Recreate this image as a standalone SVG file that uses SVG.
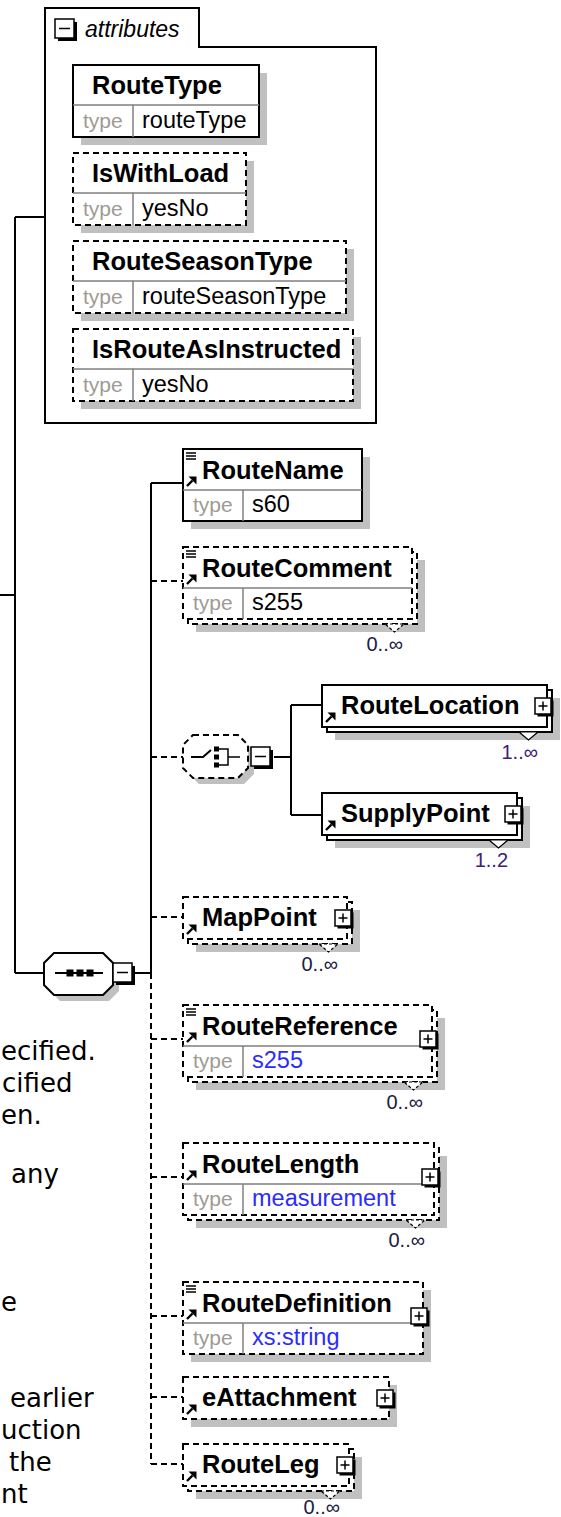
<svg xmlns="http://www.w3.org/2000/svg" xmlns:xlink="http://www.w3.org/1999/xlink" width="561" height="1517" viewBox="0 0 561 1517">
<style>
.ln{stroke:#000;stroke-width:2;fill:none}
.dl{stroke:#000;stroke-width:2;fill:none;stroke-dasharray:6 4}
.bx{fill:#fff;stroke:#000;stroke-width:2}
.bxd{fill:#fff;stroke:#000;stroke-width:2;stroke-dasharray:6 4}
.sh{fill:#c0c0c0}
.dv{stroke:#808080;stroke-width:1.5;fill:none}
.nm{font-family:"Liberation Sans",Arial,sans-serif;font-weight:bold;font-size:25.5px;fill:#000}
.tl{font-family:"Liberation Sans",Arial,sans-serif;font-size:21px;fill:#a09a94}
.tv{font-family:"Liberation Sans",Arial,sans-serif;font-size:23.5px;fill:#000}
.tb{fill:#2b2bff}
.oc{font-family:"Liberation Sans",Arial,sans-serif;font-size:20px;fill:#202040;text-anchor:end}
.oc1{fill:#402070}
.it{font-family:"Liberation Sans",Arial,sans-serif;font-style:italic;font-size:23px;fill:#000}
.bg{font-family:"DejaVu Sans",Verdana,sans-serif;font-size:26px;fill:#000}
.nt{fill:#fff;stroke:#000;stroke-width:1.2}
.ntd{fill:#fff;stroke:#000;stroke-width:1.2;stroke-dasharray:3 2}
</style>
<defs>
<g id="plus"><rect x="2.5" y="2.5" width="16" height="16" fill="#000"/><rect x="0" y="0" width="16" height="16" fill="#fff" stroke="#000" stroke-width="1.5"/><path d="M3.5 8H12.5M8 3.5V12.5" stroke="#000" stroke-width="1.5"/></g>
<g id="minus"><rect x="3" y="3" width="19" height="19" fill="#000"/><rect x="0" y="0" width="19" height="19" fill="#fff" stroke="#000" stroke-width="1.5"/><path d="M4 9.5H15" stroke="#000" stroke-width="1.5"/></g>
<g id="ar"><path d="M1 10L6.5 4.5" stroke="#000" stroke-width="2.4"/><path d="M2.5 0.5H10.5V8.5Z" fill="#000"/></g>
<g id="dc"><path d="M0 1H10M0 4H10M0 7H10" stroke="#000" stroke-width="1.4"/></g>
</defs>

<g id="bgtext">
<text class="bg" x="1" y="1060">ecified.</text>
<text class="bg" x="2" y="1092">cified</text>
<text class="bg" x="1" y="1124">en.</text>
<text class="bg" x="11" y="1183">any</text>
<text class="bg" x="1" y="1311">e</text>
<text class="bg" x="10" y="1407">earlier</text>
<text class="bg" x="1" y="1439">uction</text>
<text class="bg" x="9" y="1471">the</text>
<text class="bg" x="1" y="1503">nt</text>
</g>

<g id="connectors">
<path class="ln" d="M0 595H15M15 217V973M15 217H45M15 973H44"/>
<path class="ln" d="M135 973H151M151 483V973M151 483H183"/>
<path class="dl" d="M151 973V1464"/>
<path class="dl" d="M151 581H183M151 757H183M151 917H183M151 1039H183M151 1177H183M151 1316H183M151 1397H183M151 1464H183"/>
<path class="ln" d="M274 757H291M291 705V815M291 705H322M291 815H322"/>
</g>

<g id="attributes">
<path d="M45 8H199V47H376V423H45Z" fill="#fff" stroke="#000" stroke-width="2"/>
<use xlink:href="#minus" x="55" y="19"/>
<text class="it" x="85" y="37">attributes</text>
</g>

<g id="attr-RouteType">
<rect class="sh" x="81" y="73" width="186" height="72"/>
<rect class="bx" x="73" y="65" width="186" height="72"/>
<path class="dv" d="M73 105H259M133 105V137"/>
<text class="nm" x="92" y="94">RouteType</text>
<text class="tl" x="83" y="128">type</text>
<text class="tv" x="142" y="128">routeType</text>
</g>
<g id="attr-IsWithLoad">
<rect class="sh" x="81" y="161" width="173" height="72"/>
<rect class="bxd" x="73" y="153" width="173" height="72"/>
<path class="dv" d="M73 193H246M133 193V225"/>
<text class="nm" x="92" y="182">IsWithLoad</text>
<text class="tl" x="83" y="216">type</text>
<text class="tv" x="142" y="216">yesNo</text>
</g>
<g id="attr-RouteSeasonType">
<rect class="sh" x="81" y="249" width="273" height="72"/>
<rect class="bxd" x="73" y="241" width="273" height="72"/>
<path class="dv" d="M73 281H346M133 281V313"/>
<text class="nm" x="92" y="270">RouteSeasonType</text>
<text class="tl" x="83" y="304">type</text>
<text class="tv" x="142" y="304">routeSeasonType</text>
</g>
<g id="attr-IsRouteAsInstructed">
<rect class="sh" x="81" y="337" width="280" height="72"/>
<rect class="bxd" x="73" y="329" width="280" height="72"/>
<path class="dv" d="M73 369H353M133 369V401"/>
<text class="nm" x="92" y="358">IsRouteAsInstructed</text>
<text class="tl" x="83" y="392">type</text>
<text class="tv" x="142" y="392">yesNo</text>
</g>

<g id="sequence">
<path class="sh" d="M60 959H109L119 969V991L109 1001H60L50 991V969Z"/>
<path d="M54 953H103L113 963V985L103 995H54L44 985V963Z" fill="#fff" stroke="#000" stroke-width="2"/>
<path d="M55 973H103" stroke="#000" stroke-width="2"/>
<rect x="66.5" y="969.5" width="7" height="7"/><rect x="76.5" y="969.5" width="7" height="7"/><rect x="86.5" y="969.5" width="7" height="7"/>
<use xlink:href="#minus" x="113" y="963"/>
</g>

<g id="el-RouteName">
<rect class="sh" x="191" y="457" width="179" height="72"/>
<rect class="bx" x="183" y="449" width="179" height="72"/>
<path class="dv" d="M183 490H362M243 490V521"/>
<use xlink:href="#dc" x="186" y="452"/>
<use xlink:href="#ar" x="186" y="476"/>
<text class="nm" x="202" y="479">RouteName</text>
<text class="tl" x="193" y="512">type</text>
<text class="tv" x="252" y="512">s60</text>
</g>

<g id="el-RouteComment">
<rect class="sh" x="196" y="560" width="229" height="72"/>
<rect class="bxd" x="188" y="552" width="229" height="72"/>
<rect class="bxd" x="183" y="547" width="229" height="72"/>
<path class="dv" d="M183 588H412M243 588V619"/>
<use xlink:href="#dc" x="186" y="550"/>
<use xlink:href="#ar" x="186" y="574"/>
<text class="nm" x="202" y="577">RouteComment</text>
<text class="tl" x="193" y="610">type</text>
<text class="tv" x="252" y="610">s255</text>
<path class="ntd" d="M385 624H404L394.5 632Z"/>
<text class="oc" x="403" y="651">0..∞</text>
</g>

<g id="choice">
<path class="sh" d="M199 741H244L254 751V774L244 784H199L189 774V751Z"/>
<path d="M193 735H238L248 745V768L238 778H193L183 768V745Z" fill="#fff" stroke="#000" stroke-width="2" stroke-dasharray="6 4"/>
<path d="M191 757H203L211 750" stroke="#000" stroke-width="2" fill="none"/>
<rect x="214" y="746.5" width="5" height="5"/><rect x="214" y="754.5" width="5" height="5"/><rect x="214" y="762.5" width="5" height="5"/>
<path d="M219 749H228V765H219M228 757H240" stroke="#000" stroke-width="1.5" fill="none"/>
<use xlink:href="#minus" x="251" y="747"/>
</g>

<g id="el-RouteLocation">
<rect class="sh" x="335" y="698" width="225" height="42"/>
<rect class="bx" x="327" y="690" width="225" height="42"/>
<rect class="bx" x="322" y="685" width="225" height="42"/>
<use xlink:href="#ar" x="325" y="712"/>
<text class="nm" x="341" y="714">RouteLocation</text>
<use xlink:href="#plus" x="535" y="698"/>
<path class="nt" d="M519 732H538L528.5 740Z"/>
<text class="oc oc1" x="538" y="759">1..∞</text>
</g>

<g id="el-SupplyPoint">
<rect class="sh" x="335" y="806" width="195" height="42"/>
<rect class="bx" x="327" y="798" width="195" height="42"/>
<rect class="bx" x="322" y="793" width="195" height="42"/>
<use xlink:href="#ar" x="325" y="820"/>
<text class="nm" x="341" y="822">SupplyPoint</text>
<use xlink:href="#plus" x="505" y="806"/>
<path class="nt" d="M489 840H508L498.5 848Z"/>
<text class="oc oc1" x="508" y="867">1..2</text>
</g>

<g id="el-MapPoint">
<rect class="sh" x="196" y="910" width="164" height="42"/>
<rect class="bxd" x="188" y="902" width="164" height="42"/>
<rect class="bxd" x="183" y="897" width="164" height="42"/>
<use xlink:href="#ar" x="186" y="924"/>
<text class="nm" x="202" y="926">MapPoint</text>
<use xlink:href="#plus" x="335" y="910"/>
<path class="ntd" d="M319 944H338L328.5 952Z"/>
<text class="oc" x="338" y="971">0..∞</text>
</g>

<g id="el-RouteReference">
<rect class="sh" x="196" y="1018" width="249" height="72"/>
<rect class="bxd" x="188" y="1010" width="249" height="72"/>
<rect class="bxd" x="183" y="1005" width="249" height="72"/>
<path class="dv" d="M183 1046H432M243 1046V1077"/>
<use xlink:href="#dc" x="186" y="1008"/>
<use xlink:href="#ar" x="186" y="1032"/>
<text class="nm" x="202" y="1035">RouteReference</text>
<text class="tl" x="193" y="1068">type</text>
<text class="tv tb" x="252" y="1068">s255</text>
<use xlink:href="#plus" x="420" y="1031"/>
<path class="ntd" d="M404 1082H423L413.5 1090Z"/>
<text class="oc" x="423" y="1109">0..∞</text>
</g>

<g id="el-RouteLength">
<rect class="sh" x="196" y="1156" width="251" height="72"/>
<rect class="bxd" x="188" y="1148" width="251" height="72"/>
<rect class="bxd" x="183" y="1143" width="251" height="72"/>
<path class="dv" d="M183 1184H434M243 1184V1215"/>
<use xlink:href="#ar" x="186" y="1170"/>
<text class="nm" x="202" y="1173">RouteLength</text>
<text class="tl" x="193" y="1206">type</text>
<text class="tv tb" x="252" y="1206">measurement</text>
<use xlink:href="#plus" x="422" y="1169"/>
<path class="ntd" d="M406 1220H425L415.5 1228Z"/>
<text class="oc" x="425" y="1247">0..∞</text>
</g>

<g id="el-RouteDefinition">
<rect class="sh" x="191" y="1290" width="240" height="72"/>
<rect class="bxd" x="183" y="1282" width="240" height="72"/>
<path class="dv" d="M183 1323H423M243 1323V1354"/>
<use xlink:href="#dc" x="186" y="1285"/>
<use xlink:href="#ar" x="186" y="1309"/>
<text class="nm" x="202" y="1312">RouteDefinition</text>
<text class="tl" x="193" y="1345">type</text>
<text class="tv tb" x="252" y="1345">xs:string</text>
<use xlink:href="#plus" x="411" y="1308"/>
</g>

<g id="el-eAttachment">
<rect class="sh" x="191" y="1385" width="206" height="42"/>
<rect class="bxd" x="183" y="1377" width="206" height="42"/>
<use xlink:href="#ar" x="186" y="1404"/>
<text class="nm" x="202" y="1406">eAttachment</text>
<use xlink:href="#plus" x="377" y="1390"/>
</g>

<g id="el-RouteLeg">
<rect class="sh" x="196" y="1457" width="166" height="42"/>
<rect class="bxd" x="188" y="1449" width="166" height="42"/>
<rect class="bxd" x="183" y="1444" width="166" height="42"/>
<use xlink:href="#ar" x="186" y="1471"/>
<text class="nm" x="202" y="1473">RouteLeg</text>
<use xlink:href="#plus" x="337" y="1457"/>
<path class="ntd" d="M321 1491H340L330.5 1499Z"/>
<text class="oc" x="340" y="1514">0..∞</text>
</g>
</svg>
